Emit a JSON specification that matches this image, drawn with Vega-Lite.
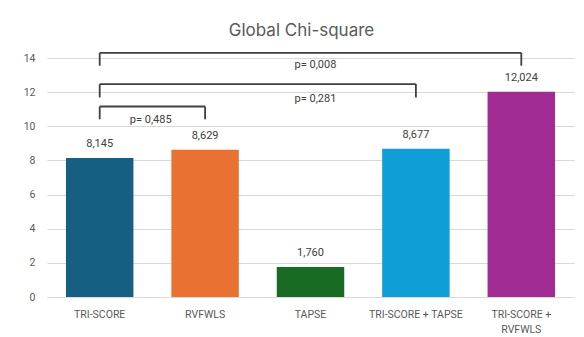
{
  "$schema": "https://vega.github.io/schema/vega-lite/v6.json",
  "autosize": "none",
  "width": 527,
  "height": 239,
  "padding": {"left": 47, "top": 58, "right": 10, "bottom": 40},
  "background": "white",
  "title": {
    "text": "Global Chi-square",
    "font": "Inter",
    "fontSize": 17,
    "fontWeight": "normal",
    "color": "#595959",
    "anchor": "middle",
    "frame": "group",
    "offset": 12,
    "dx": -9
  },
  "config": {
    "view": {"stroke": null},
    "font": "Roboto",
    "axisY": {
      "title": null,
      "domain": false,
      "ticks": false,
      "labelPadding": 12,
      "labelFontSize": 10.5,
      "labelColor": "#595959",
      "gridColor": "#d9d9d9",
      "gridWidth": 1,
      "labelOverlap": false
    }
  },
  "datasets": {
    "bars": [
      {"cat": "TRI-SCORE", "value": 8.145, "label": "8,145"},
      {"cat": "RVFWLS", "value": 8.629, "label": "8,629"},
      {"cat": "TAPSE", "value": 1.76, "label": "1,760"},
      {"cat": "TRI-SCORE + TAPSE", "value": 8.677, "label": "8,677"},
      {"cat": "TRI-SCORE + RVFWLS", "value": 12.024, "label": "12,024"}
    ],
    "brackets": [
      {"from": "TRI-SCORE", "to": "TRI-SCORE + RVFWLS", "top": 14.3, "bottom": 13.55},
      {"from": "TRI-SCORE", "to": "TRI-SCORE + TAPSE", "top": 12.47, "bottom": 11.69},
      {"from": "TRI-SCORE", "to": "RVFWLS", "top": 11.16, "bottom": 10.41}
    ],
    "plabels": [
      {"cat": "TAPSE", "y": 13.6, "label": "p= 0,008"},
      {"cat": "TAPSE", "y": 11.6, "label": "p= 0,281"}
    ],
    "plabels2": [
      {"cat": "TRI-SCORE", "y": 10.37, "label": "p= 0,485"}
    ]
  },
  "encoding": {
    "x": {
      "field": "cat",
      "type": "nominal",
      "sort": null,
      "scale": {
        "domain": ["TRI-SCORE", "RVFWLS", "TAPSE", "TRI-SCORE + TAPSE", "TRI-SCORE + RVFWLS"],
        "paddingInner": 0.36,
        "paddingOuter": 0.18
      },
      "axis": {
        "title": null,
        "labelAngle": 0,
        "ticks": false,
        "labelPadding": 12,
        "labelFontSize": 10.5,
        "labelColor": "#595959",
        "labelFont": "Roboto",
        "labelLineHeight": 15,
        "labelBaseline": "top",
        "domainColor": "#d9d9d9",
        "domainWidth": 1,
        "labelExpr": "datum.value == 'TRI-SCORE + RVFWLS' ? ['TRI-SCORE +', 'RVFWLS'] : datum.value"
      }
    }
  },
  "layer": [
    {
      "data": {"name": "bars"},
      "mark": {"type": "bar"},
      "encoding": {
        "y": {
          "field": "value",
          "type": "quantitative",
          "scale": {"domain": [0, 14], "nice": false},
          "axis": {"values": [0, 2, 4, 6, 8, 10, 12, 14], "tickCount": 8}
        },
        "color": {
          "field": "cat",
          "type": "nominal",
          "scale": {
            "domain": ["TRI-SCORE", "RVFWLS", "TAPSE", "TRI-SCORE + TAPSE", "TRI-SCORE + RVFWLS"],
            "range": ["#156082", "#E97132", "#196B24", "#0F9ED5", "#A02B93"]
          },
          "legend": null
        }
      }
    },
    {
      "data": {"name": "bars"},
      "mark": {"type": "text", "baseline": "middle", "dy": -14, "fontSize": 11, "color": "#404040"},
      "encoding": {
        "y": {"field": "value", "type": "quantitative"},
        "text": {"field": "label"}
      }
    },
    {
      "data": {"name": "brackets"},
      "mark": {"type": "rule", "color": "#404040", "strokeWidth": 1.8},
      "encoding": {
        "x": {"field": "from", "type": "nominal", "sort": null},
        "x2": {"field": "to"},
        "y": {"field": "top", "type": "quantitative"}
      }
    },
    {
      "data": {"name": "brackets"},
      "mark": {"type": "rule", "color": "#404040", "strokeWidth": 1.8},
      "encoding": {
        "x": {"field": "from", "type": "nominal", "sort": null},
        "y": {"field": "top", "type": "quantitative"},
        "y2": {"field": "bottom"}
      }
    },
    {
      "data": {"name": "brackets"},
      "mark": {"type": "rule", "color": "#404040", "strokeWidth": 1.8},
      "encoding": {
        "x": {"field": "to", "type": "nominal", "sort": null},
        "y": {"field": "top", "type": "quantitative"},
        "y2": {"field": "bottom"}
      }
    },
    {
      "data": {"name": "plabels"},
      "mark": {"type": "text", "baseline": "middle", "dx": 5, "fontSize": 11, "color": "#404040"},
      "encoding": {
        "y": {"field": "y", "type": "quantitative"},
        "text": {"field": "label"}
      }
    },
    {
      "data": {"name": "plabels2"},
      "mark": {"type": "text", "baseline": "middle", "dx": 51, "fontSize": 11, "color": "#404040"},
      "encoding": {
        "y": {"field": "y", "type": "quantitative"},
        "text": {"field": "label"}
      }
    }
  ]
}
